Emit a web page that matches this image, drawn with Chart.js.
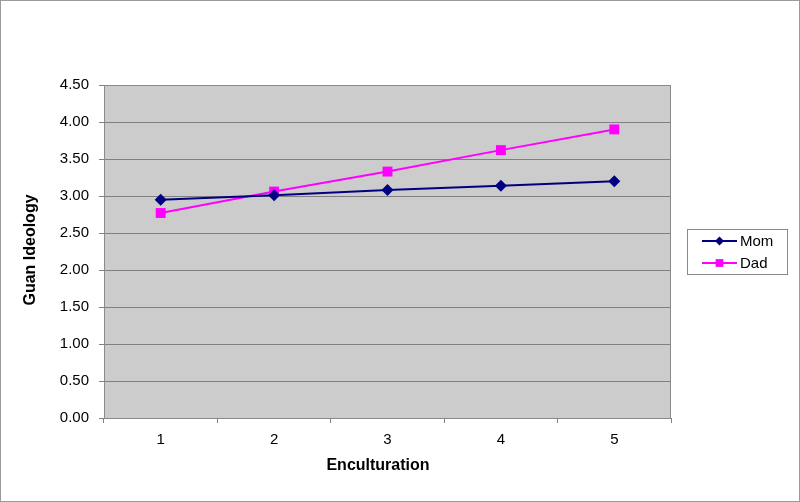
<!DOCTYPE html>
<html>
<head>
<meta charset="utf-8">
<script src="https://cdn.jsdelivr.net/npm/chart.js@4"></script>
<style>
  html, body { margin: 0; padding: 0; background: #fff; }
  #wrap { width: 800px; height: 502px; }
</style>
</head>
<body>
<div id="wrap"><canvas id="c" width="800" height="502"></canvas></div>
<script>
// data
const categories = ['1', '2', '3', '4', '5'];
const momValues  = [2.95, 3.01, 3.08, 3.14, 3.20];
const dadValues  = [2.77, 3.06, 3.33, 3.62, 3.90];
const yTicks     = [0, 0.5, 1, 1.5, 2, 2.5, 3, 3.5, 4, 4.5];
const xTitle     = 'Enculturation';
const yTitle     = 'Guan Ideology';

const FONT = 'Arial, "Liberation Sans", sans-serif';

// gray plot background + outer frame
const plotBg = {
  id: 'plotBg',
  beforeDraw(chart) {
    const { ctx, chartArea: a } = chart;
    ctx.save();
    ctx.fillStyle = '#cccccc';
    ctx.fillRect(a.left, a.top, a.right - a.left, a.bottom - a.top);
    ctx.restore();
  },
  afterDraw(chart) {
    const { ctx, chartArea: a } = chart;
    ctx.save();
    ctx.strokeStyle = '#8a8a8a';
    ctx.lineWidth = 1;
    ctx.strokeRect(a.left + 0.5, a.top + 0.5, a.right - a.left - 1, a.bottom - a.top);
    ctx.strokeStyle = '#9a9a9a';
    ctx.strokeRect(0.5, 0.5, chart.width - 1, chart.height - 1);
    ctx.restore();
  }
};

// axis titles, placed where Excel put them
const axisTitles = {
  id: 'axisTitles',
  afterDraw(chart) {
    const { ctx } = chart;
    ctx.save();
    ctx.fillStyle = '#000';
    ctx.font = 'bold 16px ' + FONT;
    ctx.textAlign = 'center';
    ctx.textBaseline = 'middle';
    ctx.fillText(xTitle, 378, 466);
    ctx.translate(31, 250);
    ctx.rotate(-Math.PI / 2);
    ctx.fillText(yTitle, 0, 0);
    ctx.restore();
  }
};

// Excel-style boxed legend on the right
const boxLegend = {
  id: 'boxLegend',
  afterDraw(chart) {
    const { ctx } = chart;
    const x = 687, y = 229, w = 100, h = 45;
    ctx.save();
    ctx.fillStyle = '#fff';
    ctx.fillRect(x, y, w, h);
    ctx.strokeStyle = '#8a8a8a';
    ctx.lineWidth = 1;
    ctx.strokeRect(x + 0.5, y + 0.5, w, h);
    chart.data.datasets.forEach((ds, i) => {
      const cy = y + 12 + i * 22;
      ctx.strokeStyle = ds.borderColor;
      ctx.lineWidth = 2;
      ctx.beginPath();
      ctx.moveTo(702, cy);
      ctx.lineTo(737, cy);
      ctx.stroke();
      ctx.fillStyle = ds.pointBackgroundColor;
      Chart.helpers.drawPoint(ctx, {
        pointStyle: ds.pointStyle, radius: ds.pointRadius - 1.5, rotation: 0, borderWidth: 0
      }, 719.5, cy);
      ctx.fillStyle = '#000';
      ctx.font = '15px ' + FONT;
      ctx.textBaseline = 'middle';
      ctx.textAlign = 'left';
      ctx.fillText(ds.label, 740, cy + 1);
    });
    ctx.restore();
  }
};

new Chart(document.getElementById('c'), {
  type: 'line',
  data: {
    labels: categories,
    datasets: [
      {
        label: 'Mom',
        data: momValues,
        borderColor: '#000080',
        backgroundColor: '#000080',
        pointBackgroundColor: '#000080',
        pointBorderColor: '#000080',
        pointStyle: 'rectRot',
        pointRadius: 6,
        pointBorderWidth: 0,
        borderWidth: 2,
        tension: 0,
      },
      {
        label: 'Dad',
        data: dadValues,
        borderColor: '#ff00ff',
        backgroundColor: '#ff00ff',
        pointBackgroundColor: '#ff00ff',
        pointBorderColor: '#ff00ff',
        pointStyle: 'rect',
        pointRadius: 7,
        pointBorderWidth: 0,
        borderWidth: 2,
        tension: 0,
      },
    ],
  },
  options: {
    responsive: false,
    animation: false,
    layout: { padding: { left: 0, top: 85, right: 129, bottom: 0 } },
    plugins: {
      legend: { display: false },
      tooltip: { enabled: false },
    },
    scales: {
      x: {
        offset: true,
        grid: { offset: true, drawOnChartArea: false, drawTicks: true, tickLength: 5, color: '#808080' },
        border: { color: '#808080' },
        ticks: { color: '#000', font: { family: FONT, size: 15 }, padding: 8 },
        afterFit: s => { s.height = 84; },
      },
      y: {
        min: 0,
        max: 4.5,
        afterBuildTicks: s => { s.ticks = yTicks.map(v => ({ value: v })); },
        grid: { color: '#808080', tickLength: 5, lineWidth: 1 },
        border: { color: '#808080' },
        ticks: { color: '#000', font: { family: FONT, size: 15 }, padding: 10, callback: v => v.toFixed(2) },
        afterFit: s => { s.width = 104; },
      },
    },
  },
  plugins: [plotBg, axisTitles, boxLegend],
});
</script>
</body>
</html>
